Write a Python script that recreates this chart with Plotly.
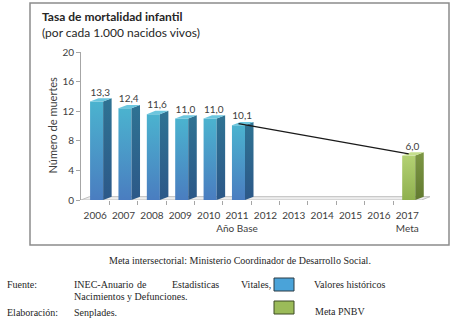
import plotly.graph_objects as go

# ---- data ----
years = [2006, 2007, 2008, 2009, 2010, 2011, 2012, 2013, 2014, 2015, 2016, 2017]
hist_years = [2006, 2007, 2008, 2009, 2010, 2011]
hist_values = [13.3, 12.4, 11.6, 11.0, 11.0, 10.1]
goal_years = [2017]
goal_values = [6.0]
trend_years = [2011, 2017]
trend_values = [10.1, 6.0]
tick_labels = ["2006", "2007", "2008", "2009", "2010", "2011<br>Año Base",
               "2012", "2013", "2014", "2015", "2016", "2017<br>Meta"]
y_ticks = [0, 4, 8, 12, 16, 20]

# ---- layout geometry (pixels) ----
W, H = 452, 322
L, R, T, B = 81, 430, 52, 200


def px(x):
    return (x - L) / (R - L)


def py(y):
    return (B - y) / (B - T)


# 3D box proportions in data units
F0, F1 = -0.18, 0.28      # front face span around the year
DX, DY = 0.30, 0.45       # depth offset (right, up)

BLUE = dict(front=[[0, "#4a7dc0"], [1, "#4bb3cf"]],
            side=[[0, "#2c5888"], [1, "#2f7393"]], top="#6cc6de")
GREEN = dict(front=[[0, "#8fb04e"], [1, "#b3d173"]],
             side=[[0, "#627a30"], [1, "#7d9744"]], top="#c4de8c")

fig = go.Figure()

# floor slab
fx0, fx1 = years[0] - 0.5, years[-1] + 0.5
fig.add_trace(go.Scatter(
    x=[fx0, fx1, fx1 + DX, fx0 + DX, fx0],
    y=[0, 0, DY, DY, 0],
    fill="toself", fillcolor="#eeeeee", mode="lines",
    line=dict(color="#bfbfbf", width=1), hoverinfo="skip", showlegend=False))


def add_box(c, v, pal):
    # front face
    fig.add_trace(go.Scatter(
        x=[c + F0, c + F1, c + F1, c + F0, c + F0], y=[0, 0, v, v, 0],
        fill="toself", mode="lines", line=dict(width=0),
        fillgradient=dict(type="vertical", colorscale=pal["front"], start=0, stop=v),
        hoverinfo="skip", showlegend=False))
    # side face
    fig.add_trace(go.Scatter(
        x=[c + F1, c + F1 + DX, c + F1 + DX, c + F1, c + F1],
        y=[0, DY, v + DY, v, 0],
        fill="toself", mode="lines", line=dict(width=0),
        fillgradient=dict(type="vertical", colorscale=pal["side"], start=0, stop=v + DY),
        hoverinfo="skip", showlegend=False))
    # top cap
    fig.add_trace(go.Scatter(
        x=[c + F0, c + F1, c + F1 + DX, c + F0 + DX, c + F0],
        y=[v, v, v + DY, v + DY, v],
        fill="toself", fillcolor=pal["top"], mode="lines", line=dict(width=0),
        hoverinfo="skip", showlegend=False))


for c, v in zip(hist_years, hist_values):
    add_box(c, v, BLUE)
for c, v in zip(goal_years, goal_values):
    add_box(c, v, GREEN)

# trend line from base year to goal
fig.add_trace(go.Scatter(
    x=[c + 0.05 for c in trend_years], y=[v + DY * 0.5 for v in trend_values],
    mode="lines", line=dict(color="#1a1a1a", width=1.3),
    hoverinfo="skip", showlegend=False))

# value labels
all_years = hist_years + goal_years
all_values = hist_values + goal_values
fig.add_trace(go.Scatter(
    x=[c + 0.18 for c in all_years], y=[v + DY for v in all_values],
    mode="text", text=[f"{v:.1f}".replace(".", ",") for v in all_values],
    textposition="top center", cliponaxis=False,
    textfont=dict(family="Lato", size=10, color="#404040"),
    hoverinfo="skip", showlegend=False))

fig.update_xaxes(
    range=[years[0] - 0.5, years[-1] + 0.8], tickvals=years, ticktext=tick_labels,
    tickangle=0,
    showgrid=False, zeroline=False, showline=False, ticks="",
    ticklabelstandoff=8,
    tickfont=dict(family="Lato", size=10, color="#404040"),
    minor=dict(tickvals=[y + 0.5 for y in years[:-1]], ticks="outside",
               ticklen=4, tickcolor="#a6a6a6"),
)
fig.update_yaxes(
    range=[0, 20], tickvals=y_ticks, showgrid=False, zeroline=False,
    showline=True, linecolor="#a6a6a6", linewidth=1,
    ticks="outside", ticklen=4, tickcolor="#a6a6a6",
    tickfont=dict(family="Lato", size=10, color="#404040"),
)

annotations = [
    dict(x=px(40), y=py(16), text="<b>Tasa de mortalidad infantil</b>",
         font=dict(family="Lato", size=12, color="#262626"), xanchor="left"),
    dict(x=px(40), y=py(32), text="(por cada 1.000 nacidos vivos)",
         font=dict(family="Lato", size=12, color="#262626"), xanchor="left"),
    dict(x=px(43), y=py(125), text="Número de muertes", textangle=-90,
         font=dict(family="Lato", size=11, color="#404040")),
    dict(x=px(240), y=py(260), text="Meta intersectorial: Ministerio Coordinador de Desarrollo Social.",
         font=dict(family="Liberation Serif", size=10, color="#262626")),
    dict(x=px(5), y=py(284), text="Fuente:", xanchor="left",
         font=dict(family="Liberation Serif", size=10, color="#262626")),
    dict(x=px(72), y=py(296), text="Nacimientos y Defunciones.", xanchor="left",
         font=dict(family="Liberation Serif", size=10, color="#262626")),
    dict(x=px(5), y=py(312), text="Elaboración:", xanchor="left",
         font=dict(family="Liberation Serif", size=10, color="#262626")),
    dict(x=px(72), y=py(312), text="Senplades.", xanchor="left",
         font=dict(family="Liberation Serif", size=10, color="#262626")),
    dict(x=px(312), y=py(284), text="Valores históricos", xanchor="left",
         font=dict(family="Liberation Serif", size=10, color="#262626")),
    dict(x=px(313), y=py(311), text="Meta PNBV", xanchor="left",
         font=dict(family="Liberation Serif", size=10, color="#262626")),
]
# justified source line
for word, xpos in [("INEC-Anuario", 72), ("de", 135), ("Estadisticas", 170), ("Vitales,", 239)]:
    annotations.append(dict(x=px(xpos), y=py(284), text=word, xanchor="left",
                            font=dict(family="Liberation Serif", size=10, color="#262626")))
for a in annotations:
    a.update(xref="paper", yref="paper", showarrow=False)
    a.setdefault("yanchor", "middle")

shapes = [
    dict(type="rect", xref="paper", yref="paper", x0=px(30), x1=px(449), y0=py(245), y1=py(3),
         line=dict(color="#8c8c8c", width=1.5), fillcolor="rgba(0,0,0,0)", layer="below"),
    dict(type="rect", xref="paper", yref="paper", x0=px(274), x1=px(294), y0=py(291), y1=py(278),
         line=dict(color="#2b3a44", width=1), fillcolor="#4aa3d9"),
    dict(type="rect", xref="paper", yref="paper", x0=px(274), x1=px(294), y0=py(314), y1=py(301),
         line=dict(color="#3d4a25", width=1), fillcolor="#9bbb59"),
]

fig.update_layout(
    width=W, height=H, margin=dict(l=L, r=W - R, t=T, b=H - B),
    paper_bgcolor="white", plot_bgcolor="white",
    annotations=annotations, shapes=shapes, showlegend=False,
)

fig.write_html("out.html")
